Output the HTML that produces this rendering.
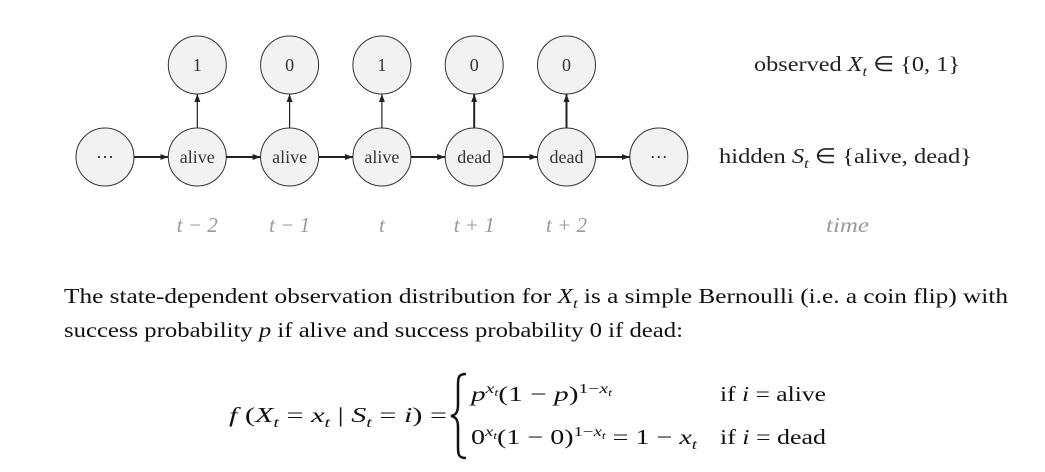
<!DOCTYPE html>
<html><head><meta charset="utf-8">
<style>
html,body{margin:0;padding:0;background:#fff;}
svg{display:block;font-family:"Liberation Serif",serif;}
</style></head>
<body>
<svg id="fig" width="1045" height="472" viewBox="0 0 1045 472">
<defs>
<marker id="ah" markerWidth="8" markerHeight="6" refX="8" refY="3" orient="auto" markerUnits="userSpaceOnUse">
<path d="M0,0 L8,3 L0,6 Z" fill="#222"/>
</marker>
</defs>
<g id="nodes"></g>
<text x="754" y="71" font-size="21" fill="#222" textLength="206" lengthAdjust="spacingAndGlyphs">observed <tspan font-style="italic">X</tspan><tspan font-style="italic" font-size="14" dy="5">t</tspan><tspan dy="-5"> ∈ {0, 1}</tspan></text>
<text x="719" y="163" font-size="21" fill="#222" textLength="253" lengthAdjust="spacingAndGlyphs">hidden <tspan font-style="italic">S</tspan><tspan font-style="italic" font-size="14" dy="5">t</tspan><tspan dy="-5"> ∈ {alive, dead}</tspan></text>
<text x="826" y="232" font-size="21" fill="#999" font-style="italic" textLength="43" lengthAdjust="spacingAndGlyphs">time</text>

<text x="64" y="303" font-size="21" fill="#111" textLength="944" lengthAdjust="spacingAndGlyphs">The state-dependent observation distribution for <tspan font-style="italic">X</tspan><tspan font-style="italic" font-size="14" dy="5">t</tspan><tspan dy="-5"> is a simple Bernoulli (i.e. a coin flip) with</tspan></text>
<text x="64" y="337" font-size="21" fill="#111" textLength="619" lengthAdjust="spacingAndGlyphs">success probability <tspan font-style="italic">p</tspan> if alive and success probability 0 if dead:</text>

<g fill="#111" font-size="21">
<text x="229" y="422" textLength="218" lengthAdjust="spacingAndGlyphs"><tspan font-style="italic">f</tspan> (<tspan font-style="italic">X</tspan><tspan font-style="italic" font-size="14" dy="5">t</tspan><tspan dy="-5"> = </tspan><tspan font-style="italic">x</tspan><tspan font-style="italic" font-size="14" dy="5">t</tspan><tspan dy="-5"> | </tspan><tspan font-style="italic">S</tspan><tspan font-style="italic" font-size="14" dy="5">t</tspan><tspan dy="-5"> = </tspan><tspan font-style="italic">i</tspan>) =</text>
<path d="M466,374 C458,374 458,378 458,386 L458,405 C458,412 456,415 451,416 C456,417 458,420 458,427 L458,446 C458,454 458,458 466,458" fill="none" stroke="#111" stroke-width="2.5"/>
<text x="471" y="401" textLength="141" lengthAdjust="spacingAndGlyphs"><tspan font-style="italic">p</tspan><tspan font-style="italic" font-size="14" dy="-8">x</tspan><tspan font-style="italic" font-size="10" dy="3">t</tspan><tspan dy="5">(1 − </tspan><tspan font-style="italic">p</tspan>)<tspan font-size="14" dy="-8">1−</tspan><tspan font-style="italic" font-size="14">x</tspan><tspan font-style="italic" font-size="10" dy="3">t</tspan></text>
<text x="720" y="401" textLength="106" lengthAdjust="spacingAndGlyphs">if <tspan font-style="italic">i</tspan> = alive</text>
<text x="471" y="444" textLength="226" lengthAdjust="spacingAndGlyphs">0<tspan font-style="italic" font-size="14" dy="-8">x</tspan><tspan font-style="italic" font-size="10" dy="3">t</tspan><tspan dy="5">(1 − 0)</tspan><tspan font-size="14" dy="-8">1−</tspan><tspan font-style="italic" font-size="14">x</tspan><tspan font-style="italic" font-size="10" dy="3">t</tspan><tspan dy="5"> = 1 − </tspan><tspan font-style="italic">x</tspan><tspan font-style="italic" font-size="14" dy="5">t</tspan></text>
<text x="720" y="444" textLength="106" lengthAdjust="spacingAndGlyphs">if <tspan font-style="italic">i</tspan> = dead</text>
</g>
</svg>
<script>
const states = ["⋯","alive","alive","alive","dead","dead","⋯"];
const observations = [null,"1","0","1","0","0",null];
const timeLabels = [null,"t − 2","t − 1","t","t + 1","t + 2",null];
const x0 = 105, dx = 92.3, yH = 157, yO = 65, yT = 232, r = 29;
const NS = "http://www.w3.org/2000/svg";
const g = document.getElementById("nodes");
function cx(i){return x0 + i*dx;}
function mk(tag, attrs){const e=document.createElementNS(NS,tag);for(const k in attrs)e.setAttribute(k,attrs[k]);g.appendChild(e);return e;}
states.forEach((s,i)=>{
  const c = mk("circle",{cx:cx(i),cy:yH,r:r,fill:"#f2f2f2",stroke:"#333","stroke-width":1});
  
  
  const t = mk("text",{x:cx(i),y:yH+6,"font-size":18,"text-anchor":"middle",fill:"#333"});
  t.textContent = s;
  
  
  if(i < states.length-1){
    const a = mk("line",{x1:cx(i)+r,y1:yH,x2:cx(i+1)-r,y2:yH,stroke:"#222","stroke-width":2,"marker-end":"url(#ah)"});
    
    
  }
  if(observations[i]!==null){
    const o = mk("circle",{cx:cx(i),cy:yO,r:r,fill:"#f2f2f2",stroke:"#333","stroke-width":1});
    
    
    const ot = mk("text",{x:cx(i),y:yO+6,"font-size":18,"text-anchor":"middle",fill:"#333"});
    ot.textContent = observations[i];
    
    
    const ea = mk("line",{x1:cx(i),y1:yH-r,x2:cx(i),y2:yO+r,stroke:"#222","stroke-width":s==="dead"?2:1.2,"marker-end":"url(#ah)"});
    
    
  }
  if(timeLabels[i]!==null){
    const tl = mk("text",{x:cx(i),y:yT,"font-size":21,"text-anchor":"middle",fill:"#999","font-style":"italic"});
    tl.textContent = timeLabels[i];
    
    
  }
});
</script>
</body></html>
